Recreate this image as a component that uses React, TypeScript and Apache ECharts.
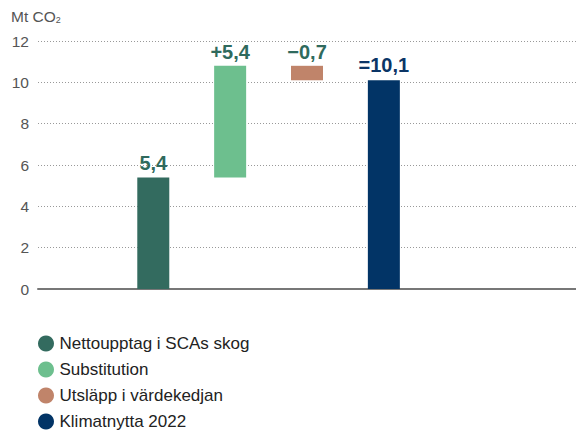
import React, { useEffect, useRef } from "react";
import * as echarts from "echarts";

const categories = ["", "Nettoupptag", "Substitution", "Utsläpp", "Klimatnytta", "", ""];
const seriesNames = ["Nettoupptag i SCAs skog", "Substitution", "Utsläpp i värdekedjan", "Klimatnytta 2022"];
const baseValues = [0, 0, 5.4, 10.1, 0, 0, 0];
const barValues = [5.4, 5.4, 0.7, 10.1];
const barLabels = ["5,4", "+5,4", "\u22120,7", "=10,1"];
const colors = ["#336b5f", "#6dbf8e", "#c0846a", "#023466"];
const labelColors = ["#2f6a5d", "#2f6a5d", "#2f6a5d", "#0b3566"];
const yTicks = { min: 0, max: 12, interval: 2 };

export default function App() {
  const ref = useRef<HTMLDivElement>(null);
  useEffect(() => {
    const chart = echarts.init(ref.current!, null, { renderer: "svg" });
    const font = "Liberation Sans";
    const series: any[] = [
      {
        type: "bar",
        name: "base",
        stack: "w",
        data: baseValues,
        itemStyle: { color: "transparent" },
        barWidth: 32,
        silent: true,
      },
    ];
    seriesNames.forEach((n, i) => {
      const d = categories.map((_, ci) => (ci === i + 1 ? barValues[i] : null));
      series.push({
        type: "bar",
        name: n,
        stack: "w",
        barWidth: 32,
        data: d,
        itemStyle: { color: colors[i] },
        label: {
          show: true,
          position: "top",
          distance: i === 3 ? 5 : 4,
          formatter: () => barLabels[i],
          color: labelColors[i],
          fontFamily: font,
          fontWeight: "bold",
          fontSize: 20,
        },
      });
    });
    chart.setOption({
      animation: false,
      textStyle: { fontFamily: font },
      grid: { left: 38, right: -4, top: 41, bottom: 141 },
      graphic: [
        {
          type: "text",
          left: 11,
          top: 8,
          style: {
            text: "{a|Mt CO}{b|2}",
            rich: {
              a: { fontFamily: font, fontSize: 15.5, fill: "#555" },
              b: { fontFamily: font, fontSize: 9, fill: "#555", padding: [7, 0, 0, 0] },
            },
          },
        },
      ],
      legend: {
        orient: "vertical",
        left: 38,
        top: 335,
        height: 140,
        padding: 0,
        icon: "circle",
        itemWidth: 17,
        itemHeight: 16,
        itemGap: 9,
        data: seriesNames,
        textStyle: { fontFamily: font, fontSize: 17, lineHeight: 16, color: "#222" },
        selectedMode: false,
      },
      xAxis: {
        type: "category",
        data: categories,
        axisLine: { show: true, lineStyle: { color: "#777", width: 2 } },
        axisTick: { show: false },
        axisLabel: { show: false },
      },
      yAxis: {
        type: "value",
        min: yTicks.min,
        max: yTicks.max,
        interval: yTicks.interval,
        axisLine: { show: false },
        axisTick: { show: false },
        axisLabel: { fontFamily: font, fontSize: 15.5, color: "#555", margin: 9 },
        splitLine: { show: true, lineStyle: { color: "#999", type: [1, 2], width: 1 } },
      },
      series,
    });
    return () => chart.dispose();
  }, []);
  return <div ref={ref} style={{ position: "fixed", left: 0, top: 0, width: 576, height: 430, background: "#fff" }} />;
}
